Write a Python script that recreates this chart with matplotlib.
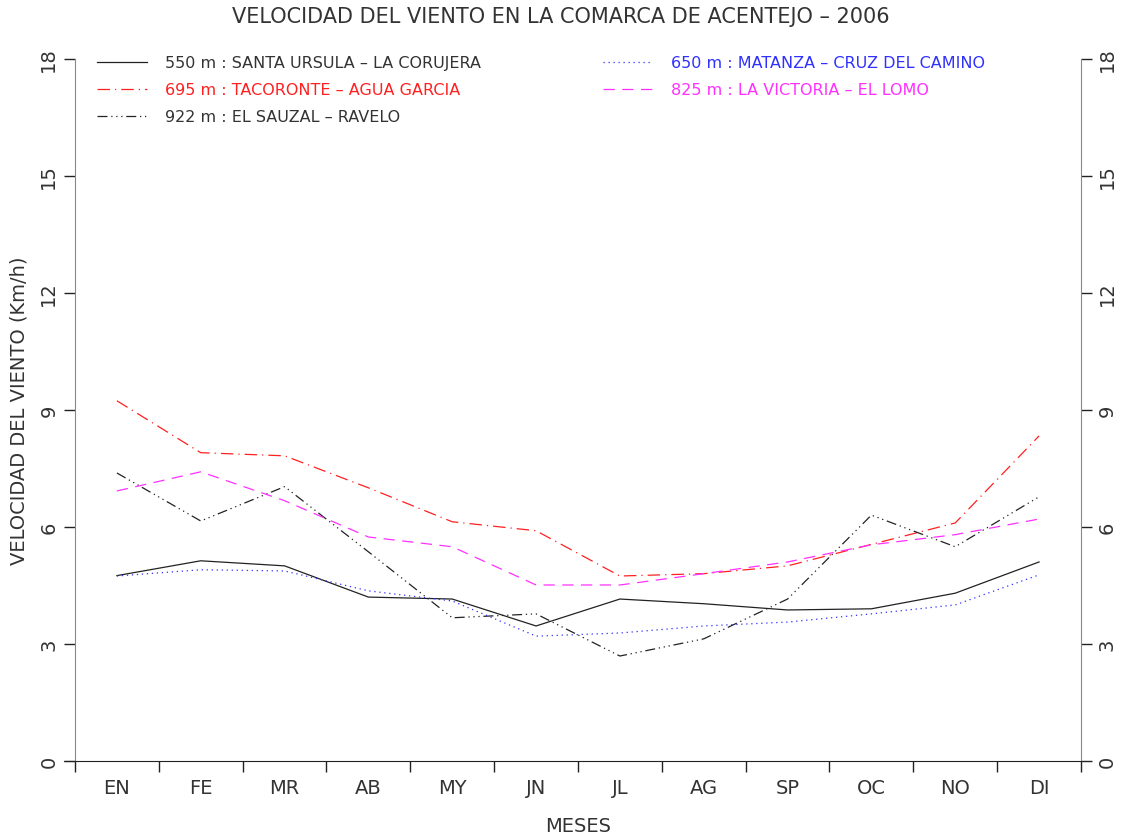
import matplotlib
matplotlib.use("Agg")
import matplotlib.pyplot as plt
import numpy as np

months = ["EN", "FE", "MR", "AB", "MY", "JN", "JL", "AG", "SP", "OC", "NO", "DI"]
labels = [
    "550 m : SANTA URSULA – LA CORUJERA",
    "695 m : TACORONTE – AGUA GARCIA",
    "922 m : EL SAUZAL – RAVELO",
    "650 m : MATANZA – CRUZ DEL CAMINO",
    "825 m : LA VICTORIA – EL LOMO",
]
s550 = [4.75, 5.13, 5.00, 4.20, 4.15, 3.46, 4.15, 4.03, 3.87, 3.90, 4.30, 5.10]
s695 = [9.23, 7.90, 7.82, 7.00, 6.13, 5.90, 4.74, 4.80, 5.00, 5.55, 6.10, 8.33]
s922 = [7.38, 6.15, 7.03, 5.36, 3.67, 3.77, 2.69, 3.13, 4.15, 6.30, 5.49, 6.77]
s650 = [4.74, 4.90, 4.87, 4.36, 4.10, 3.20, 3.28, 3.46, 3.56, 3.77, 4.00, 4.77]
s825 = [6.92, 7.41, 6.67, 5.74, 5.49, 4.51, 4.51, 4.80, 5.10, 5.54, 5.80, 6.20]

plt.rcParams['font.family'] = ['DejaVu Sans']
txt = '#333333'

fig = plt.figure(figsize=(11.21, 8.37), dpi=100)
ax = fig.add_axes([0.0669, 0.0896, 0.8974, 0.8393])

x = np.arange(len(months)) + 0.5
lw = 0.9
l1, = ax.plot(x, s550, color='#222222', lw=lw, ls='-')
l2, = ax.plot(x, s695, color='#ff2020', lw=lw, ls=(0, (10, 4, 1, 4)))
l3, = ax.plot(x, s922, color='#222222', lw=lw, ls=(0, (8, 3, 1, 3, 1, 3, 1, 3)))
l4, = ax.plot(x, s650, color='#3030ff', lw=lw, ls=(0, (1, 3)))
l5, = ax.plot(x, s825, color='#ff30ff', lw=lw, ls=(0, (9, 6)))

ax.set_xlim(0, 12)
ax.set_ylim(0, 18)

ax.set_xticks(np.arange(0, 13))
ax.set_xticklabels([])
ax.set_xticks(x, minor=True)
ax.set_xticklabels(months, minor=True, fontsize=14, color=txt)
ax.tick_params(axis='x', which='major', direction='out', length=8, width=1, color='#222222')
ax.tick_params(axis='x', which='minor', length=0, pad=12)

ax.set_yticks(np.arange(0, 19, 3))
ax.tick_params(axis='y', which='major', direction='out', length=8, width=1, color='#222222',
               labelsize=14, labelcolor=txt, pad=4, right=True, labelright=True)
for t in ax.yaxis.get_ticklabels() + ax.yaxis.get_ticklabels(which='major'):
    t.set_rotation(90)
    t.set_va('center')
for tk in ax.yaxis.get_major_ticks():
    tk.label1.set_rotation(90)
    tk.label2.set_rotation(90)
    tk.label1.set_va('center')
    tk.label2.set_va('center')

ax.spines['top'].set_visible(False)
ax.spines['left'].set_color('#888888')
ax.spines['right'].set_color('#888888')
ax.spines['bottom'].set_color('#222222')
ax.spines['bottom'].set_bounds(-0.13, 12)

ax.set_xlabel("MESES", fontsize=14, color=txt, labelpad=14)
ax.set_ylabel("VELOCIDAD DEL VIENTO (Km/h)", fontsize=14, color=txt, labelpad=8)
fig.suptitle("VELOCIDAD DEL VIENTO EN LA COMARCA DE ACENTEJO – 2006", fontsize=15, color=txt, y=0.992)

leg = ax.legend([l1, l2, l3, l4, l5], labels, ncol=2, loc='upper left', frameon=False,
                fontsize=11.5, handlelength=3.1, handletextpad=1.1, columnspacing=7.7,
                labelspacing=0.75, bbox_to_anchor=(0.008, 1.025))
for t, c in zip(leg.get_texts(), [txt, '#ff2020', txt, '#3030ff', '#ff30ff']):
    t.set_color(c)

fig.savefig("out.png", dpi=100)
